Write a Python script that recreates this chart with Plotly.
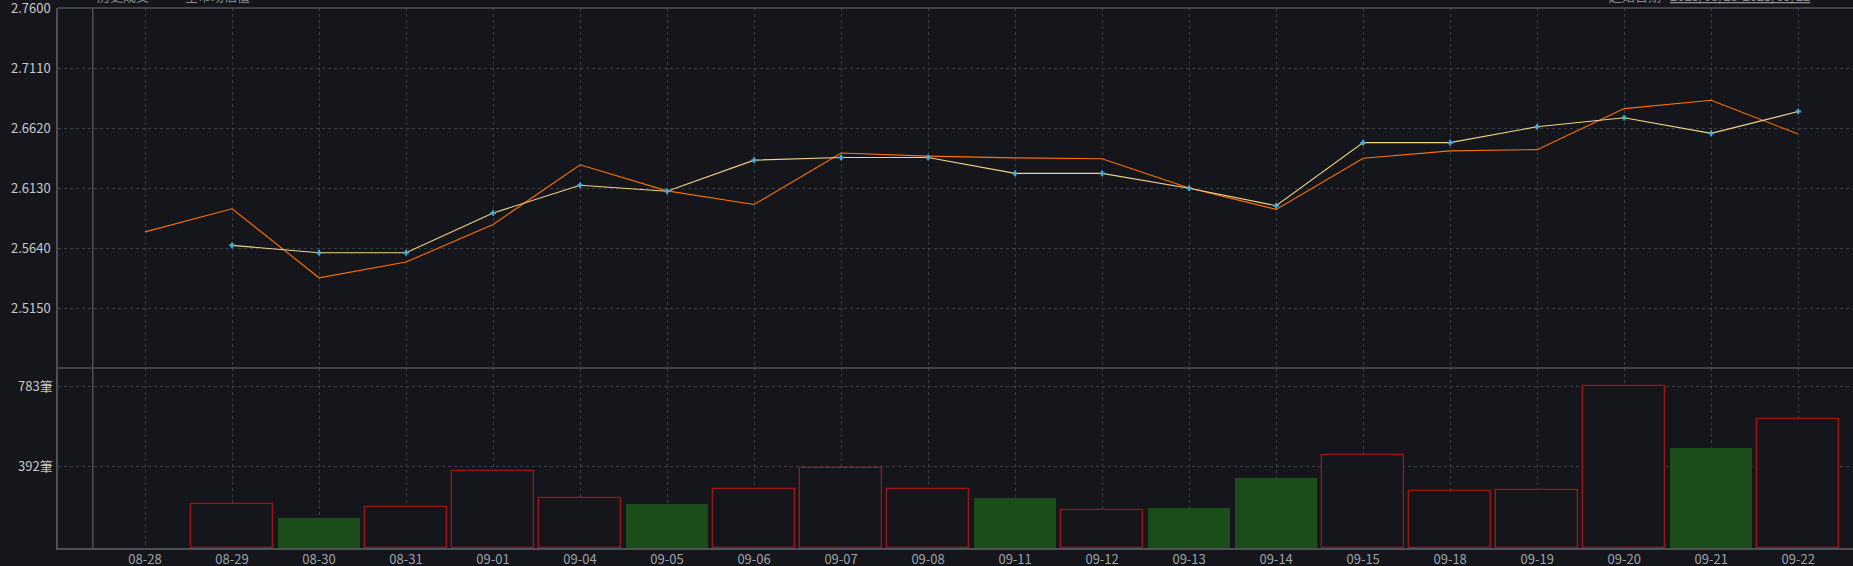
import plotly.graph_objects as go

dates = ["08-28", "08-29", "08-30", "08-31", "09-01", "09-04", "09-05", "09-06", "09-07", "09-08",
         "09-11", "09-12", "09-13", "09-14", "09-15", "09-18", "09-19", "09-20", "09-21", "09-22"]

# orange line (all days)
orange_vals = [2.5772, 2.5961, 2.5397, 2.5526, 2.5832, 2.6320, 2.6107, 2.5996, 2.6417, 2.6391,
               2.6377, 2.6369, 2.6131, 2.5956, 2.6374, 2.6434, 2.6444, 2.6779, 2.6847, 2.6571]

# yellow line with markers (starts 08-29)
yellow_vals = [None, 2.5662, 2.5602, 2.5602, 2.5926, 2.6153, 2.6104, 2.6358, 2.6380, 2.6380,
               2.6250, 2.6250, 2.6129, 2.5986, 2.6501, 2.6501, 2.6631, 2.6704, 2.6577, 2.6755]

# trade counts (筆)
counts = [0, 212, 146, 198, 371, 241, 214, 285, 386, 285,
          243, 183, 195, 339, 449, 275, 280, 783, 484, 622]
direction = ["up", "up", "down", "up", "up", "up", "down", "up", "up", "up",
             "down", "up", "down", "down", "up", "up", "up", "up", "down", "up"]

price_ticks = [2.5150, 2.5640, 2.6130, 2.6620, 2.7110, 2.7600]
count_ticks = [392, 783]
count_labels = ["392筆", "783筆"]

BG = "#14161b"
GRID = "#3b3f47"
AXIS = "#4e5054"
FONT = "Noto Sans CJK TC, Noto Sans, sans-serif"

xs = list(range(len(dates)))

fig = go.Figure()

# bars
up_x = [i for i in xs if direction[i] == "up" and counts[i] > 0]
dn_x = [i for i in xs if direction[i] == "down" and counts[i] > 0]
fig.add_trace(go.Bar(x=up_x, y=[counts[i] for i in up_x], width=0.945,
                     marker=dict(color=BG, line=dict(color="#9c1717", width=1.3)),
                     xaxis="x", yaxis="y", showlegend=False))
fig.add_trace(go.Bar(x=dn_x, y=[counts[i] for i in dn_x], width=0.945,
                     marker=dict(color="#1a4d1a", line=dict(color="#1a4d1a", width=0)),
                     xaxis="x", yaxis="y", showlegend=False))

# lines
fig.add_trace(go.Scatter(x=xs, y=orange_vals, mode="lines",
                         line=dict(color="#ff7000", width=1.1),
                         xaxis="x2", yaxis="y2", showlegend=False))
fig.add_trace(go.Scatter(x=xs, y=yellow_vals, mode="lines+markers",
                         line=dict(color="#f2d386", width=1.1),
                         marker=dict(color="#4aaed0", size=4, symbol="cross-thin",
                                     line=dict(color="#4aaed0", width=2)),
                         xaxis="x2", yaxis="y2", showlegend=False, connectgaps=False))

split = 0.3333
xrange = [-1, 19.63]

fig.update_layout(
    width=1853, height=566,
    margin=dict(l=58, r=0, t=8, b=18, autoexpand=False),
    paper_bgcolor=BG, plot_bgcolor=BG,
    font=dict(family=FONT, size=13, color="#c4c4c4"),
    bargap=0,
    xaxis=dict(domain=[0, 1], range=xrange, tickmode="array", tickvals=xs, ticktext=dates,
               showgrid=True, gridcolor=GRID, griddash="dot", gridwidth=1,
               showline=True, linecolor=AXIS, linewidth=1.5, zeroline=False, automargin=False,
               ticks="", ticklabelstandoff=-1, ticklabeloverflow="allow",
               tickfont=dict(color="#9ea2a8", size=13), anchor="y"),
    yaxis=dict(domain=[0, split], range=[0, 870], tickmode="array",
               tickvals=count_ticks, ticktext=count_labels, automargin=False,
               showgrid=True, gridcolor=GRID, griddash="dot", gridwidth=1,
               showline=True, linecolor=AXIS, linewidth=1.5, zeroline=False,
               ticks="", ticklabelstandoff=1, ticklabeloverflow="allow",
               tickfont=dict(color="#c8c8c8", size=13)),
    xaxis2=dict(domain=[0, 1], range=xrange, tickmode="array", tickvals=xs,
                showticklabels=False, anchor="y2", automargin=False,
                showgrid=True, gridcolor=GRID, griddash="dot", gridwidth=1,
                showline=False, zeroline=False, ticks=""),
    yaxis2=dict(domain=[split, 1], range=[2.466, 2.7601], tickmode="array",
                tickvals=price_ticks, tickformat=".4f", anchor="x2", automargin=False,
                showgrid=True, gridcolor=GRID, griddash="dot", gridwidth=1,
                showline=True, linecolor=AXIS, linewidth=1.5, zeroline=False,
                ticks="", ticklabelstandoff=3, ticklabeloverflow="allow",
                tickfont=dict(color="#c8c8c8", size=13)),
)

# frame lines: top border, panel divider, inner vertical line
fig.add_shape(type="line", xref="paper", yref="paper", x0=0, x1=1, y0=1, y1=1,
              line=dict(color=AXIS, width=1.5))
fig.add_shape(type="line", xref="paper", yref="paper", x0=0, x1=1, y0=split, y1=split,
              line=dict(color=AXIS, width=1.5))
fig.add_shape(type="line", xref="x", yref="paper", x0=-0.6, x1=-0.6, y0=0, y1=1,
              line=dict(color=AXIS, width=1.5))

# header texts (partly cut off at the top of the window, as in the reference)
for txt, xpx in [("历史成交", 95), ("全市场估值", 183), ("起始日期", 1607)]:
    fig.add_annotation(text=txt, xref="paper", yref="paper",
                       x=(xpx - 58) / 1795, y=1 + 0.5 / 540, xanchor="left", yanchor="bottom",
                       showarrow=False, font=dict(color="#8a8d92", size=13))
fig.add_annotation(text="<u>2023/08/28-2023/09/22</u>", xref="paper", yref="paper",
                   x=(1668 - 58) / 1795, y=1 + 0.5 / 540, xanchor="left", yanchor="bottom",
                   showarrow=False, font=dict(color="#8a8d92", size=13))

fig.write_html("out.html", config={"displayModeBar": False},
               post_script="document.body.style.margin='0';document.body.style.padding='0';"
                           "document.body.style.overflow='hidden';")
